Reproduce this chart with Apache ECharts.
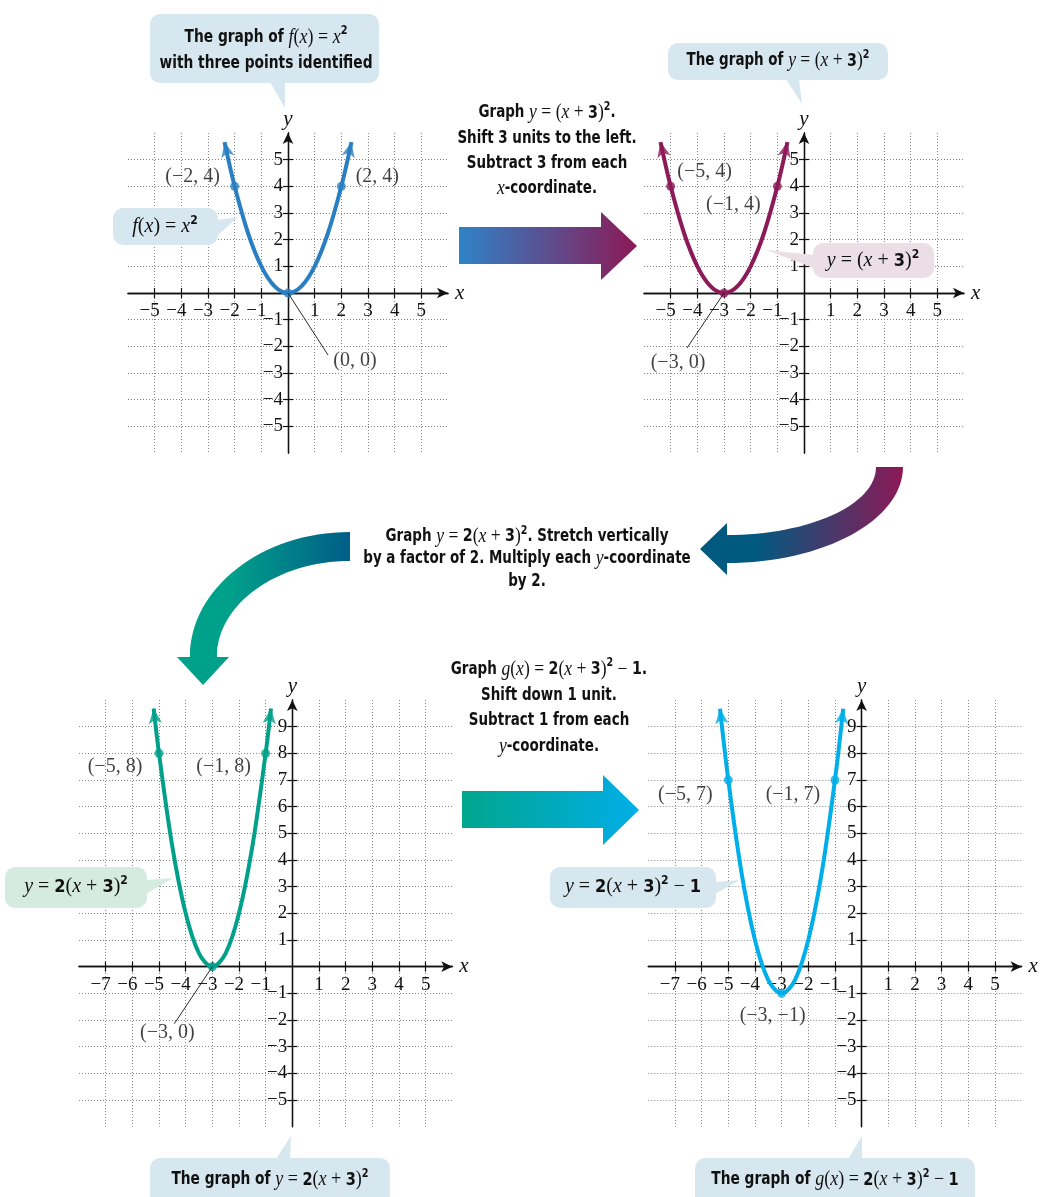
<!DOCTYPE html>
<html>
<head>
<meta charset="utf-8">
<script src="https://cdn.jsdelivr.net/npm/echarts@6/dist/echarts.min.js"></script>
<style>
  html, body { margin: 0; padding: 0; background: #ffffff; }
  #main { width: 1040px; height: 1197px; }
</style>
</head>
<body>
<div id="main"></div>
<script>
// ---------- data ----------
// axis ranges of the four coordinate planes
const xRangeTop = [-6, 6];
const yRangeTop = [-6, 6];
const xRangeBottom = [-8, 6];
const yRangeBottom = [-6, 10];

// labelled ticks (0 is left unlabelled)
const xTicksTop = [-5, -4, -3, -2, -1, 1, 2, 3, 4, 5];
const yTicksTop = [-5, -4, -3, -2, -1, 1, 2, 3, 4, 5];
const xTicksBottom = [-7, -6, -5, -4, -3, -2, -1, 1, 2, 3, 4, 5];
const yTicksBottom = [-5, -4, -3, -2, -1, 1, 2, 3, 4, 5, 6, 7, 8, 9];

// f(x) = x^2
const curveX1 = [-2.38, -2, -1.5, -1, -0.5, 0, 0.5, 1, 1.5, 2, 2.38];
const curveY1 = [5.66, 4, 2.25, 1, 0.25, 0, 0.25, 1, 2.25, 4, 5.66];
// y = (x + 3)^2
const curveX2 = [-5.38, -5, -4.5, -4, -3.5, -3, -2.5, -2, -1.5, -1, -0.62];
const curveY2 = [5.66, 4, 2.25, 1, 0.25, 0, 0.25, 1, 2.25, 4, 5.66];
// y = 2(x + 3)^2
const curveX3 = [-5.2, -5, -4.5, -4, -3.5, -3, -2.5, -2, -1.5, -1, -0.8];
const curveY3 = [9.68, 8, 4.5, 2, 0.5, 0, 0.5, 2, 4.5, 8, 9.68];
// g(x) = 2(x + 3)^2 - 1
const curveX4 = [-5.31, -5, -4.5, -4, -3.5, -3, -2.5, -2, -1.5, -1, -0.69];
const curveY4 = [9.67, 7, 3.5, 1, -0.5, -1, -0.5, 1, 3.5, 7, 9.67];

// identified points
const points1 = [[-2, 4], [0, 0], [2, 4]];
const points2 = [[-5, 4], [-3, 0], [-1, 4]];
const points3 = [[-5, 8], [-3, 0], [-1, 8]];
const points4 = [[-5, 7], [-3, -1], [-1, 7]];

// ---------- styling ----------
const SERIF = "'Liberation Serif', 'Times New Roman', serif";
const HAND = "'DejaVu Sans Condensed', 'DejaVu Sans', sans-serif";
const INK = '#111111';
const GRIDLINE = '#858585';
const BLUE_BOX = '#d6e7f0';
const PINK_BOX = '#ecdee5';
const GREEN_BOX = '#d6ebdf';

const panels = [
  { grid: { left: 128, top: 133, width: 320, height: 320 }, color: '#2a7fc2',
    xRange: xRangeTop, yRange: yRangeTop, xTicks: xTicksTop, yTicks: yTicksTop,
    cx: curveX1, cy: curveY1, pts: points1,
    labelOffsets: [[-42, -10], [67, 68], [36, -10]], leaders: [null, [40, 62], null] },
  { grid: { left: 644, top: 133, width: 320, height: 320 }, color: '#8c1a59',
    xRange: xRangeTop, yRange: yRangeTop, xTicks: xTicksTop, yTicks: yTicksTop,
    cx: curveX2, cy: curveY2, pts: points2,
    labelOffsets: [[34, -15], [-46, 70], [-44, 18]], leaders: [null, [-37, 55], null] },
  { grid: { left: 79, top: 700, width: 373.3, height: 426.7 }, color: '#00a08a',
    xRange: xRangeBottom, yRange: yRangeBottom, xTicks: xTicksBottom, yTicks: yTicksBottom,
    cx: curveX3, cy: curveY3, pts: points3,
    labelOffsets: [[-44, 13], [-45, 66], [-42, 13]], leaders: [null, [-38, 57], null] },
  { grid: { left: 648.3, top: 700, width: 373.3, height: 426.7 }, color: '#00aeea',
    xRange: xRangeBottom, yRange: yRangeBottom, xTicks: xTicksBottom, yTicks: yTicksBottom,
    cx: curveX4, cy: curveY4, pts: points4,
    labelOffsets: [[-43, 15], [-9, 22], [-42, 15]], leaders: [null, null, null] }
];

function fmtNum(v) { return v < 0 ? '\u2212' + (-v) : String(v); }
function fmtPt(p) { return '(' + fmtNum(p[0]) + ', ' + fmtNum(p[1]) + ')'; }

// free-form filled outline (used for the curved block arrows)
echarts.graphic.registerShape('cmdPath', echarts.graphic.extendShape({
  shape: { cmds: [] },
  buildPath: function (ctx, shape) {
    shape.cmds.forEach(function (c) {
      if (c[0] === 'M') ctx.moveTo(c[1], c[2]);
      else if (c[0] === 'L') ctx.lineTo(c[1], c[2]);
      else if (c[0] === 'C') ctx.bezierCurveTo(c[1], c[2], c[3], c[4], c[5], c[6]);
      else ctx.closePath();
    });
  }
}));

const grid = [], xAxis = [], yAxis = [], series = [];

// Each plane gets two axes per dimension, both shifted onto the zero line of the
// other dimension: one carries the line, labels and outward ticks, the other only
// the opposite half of the ticks, so the ticks cross the axis.
function makeAxis(dim, gi, range, ticks, position, primary, shift) {
  const isX = dim === 'x';
  return {
    gridIndex: gi, type: 'value', min: range[0], max: range[1], interval: 1,
    position: position, offset: shift,
    axisLine: {
      show: true, onZero: false,
      symbol: primary ? ['none', 'arrow'] : 'none', symbolSize: [8, 11],
      lineStyle: { color: INK, width: 1.3 }
    },
    axisTick: { show: true, length: 5, customValues: ticks, lineStyle: { color: INK, width: 1.2 } },
    axisLabel: {
      show: primary, customValues: ticks,
      formatter: function (v) {
        if (ticks.indexOf(v) < 0) return '';
        if (isX) return v < 0 ? '{n|' + fmtNum(v) + '}' : '{p|' + v + '}';
        return fmtNum(v);
      },
      rich: {
        n: { fontFamily: SERIF, fontSize: 19, color: INK, padding: [0, 10, 0, 0] },
        p: { fontFamily: SERIF, fontSize: 19, color: INK }
      },
      fontFamily: SERIF, fontSize: 19, color: INK, margin: isX ? 9 : 5
    },
    splitLine: {
      show: primary, showMinLine: true, showMaxLine: true,
      lineStyle: { color: GRIDLINE, width: 1, type: [1, 2] }
    },
    name: primary ? dim : '', nameLocation: 'end', nameGap: isX ? 7 : 3,
    nameTextStyle: { fontFamily: SERIF, fontStyle: 'italic', fontSize: 21, color: INK }
  };
}

panels.forEach(function (p, i) {
  grid.push(Object.assign({ show: false, containLabel: false }, p.grid));
  const w = p.grid.width, h = p.grid.height;
  const yZeroFromBottom = h * (0 - p.yRange[0]) / (p.yRange[1] - p.yRange[0]);
  const xZeroFromLeft = w * (0 - p.xRange[0]) / (p.xRange[1] - p.xRange[0]);
  xAxis.push(makeAxis('x', i, p.xRange, p.xTicks, 'bottom', true, -yZeroFromBottom));
  xAxis.push(makeAxis('x', i, p.xRange, p.xTicks, 'top', false, -(h - yZeroFromBottom)));
  yAxis.push(makeAxis('y', i, p.yRange, p.yTicks, 'left', true, -xZeroFromLeft));
  yAxis.push(makeAxis('y', i, p.yRange, p.yTicks, 'right', false, -(w - xZeroFromLeft)));
  const ax = 2 * i;

  // the parabola
  series.push({
    type: 'line', xAxisIndex: ax, yAxisIndex: ax, silent: true, z: 3,
    data: p.cx.map(function (x, k) { return [x, p.cy[k]]; }),
    smooth: 0.35, symbol: 'none',
    lineStyle: { color: p.color, width: 4 }
  });

  // arrowheads at both ends, aligned with the last segment
  const n = p.cx.length;
  const ends = [[p.cx[0], p.cy[0], p.cx[1], p.cy[1]],
                [p.cx[n - 1], p.cy[n - 1], p.cx[n - 2], p.cy[n - 2]]];
  series.push({
    type: 'scatter', xAxisIndex: ax, yAxisIndex: ax, silent: true, z: 4,
    symbol: 'arrow', symbolSize: [10, 15],
    itemStyle: { color: p.color },
    data: ends.map(function (e) {
      return { value: [e[0], e[1]],
               symbolRotate: -Math.atan2(e[0] - e[2], e[1] - e[3]) * 180 / Math.PI };
    })
  });

  // identified points with coordinate labels
  series.push({
    type: 'scatter', xAxisIndex: ax, yAxisIndex: ax, silent: true, z: 5,
    symbolSize: 9, itemStyle: { color: p.color },
    label: {
      show: true, position: 'inside',
      formatter: function (d) { return fmtPt(d.value); },
      fontFamily: SERIF, fontSize: 20, color: INK
    },
    data: p.pts.map(function (pt, k) {
      return { value: pt, label: { offset: p.labelOffsets[k] } };
    })
  });
});

// ---------- annotations ----------
const RICH = {
  h: { fontFamily: HAND, fontWeight: 'bold', fontSize: 17, lineHeight: 25, fill: INK },
  m: { fontFamily: SERIF, fontStyle: 'italic', fontSize: 20, lineHeight: 25, fill: INK },
  s: { fontFamily: SERIF, fontSize: 20, lineHeight: 25, fill: INK },
  b: { fontFamily: HAND, fontWeight: 'bold', fontSize: 18, lineHeight: 25, fill: INK },
  u: { fontFamily: HAND, fontWeight: 'bold', fontSize: 12, lineHeight: 18, verticalAlign: 'top', fill: INK }
};

function textEl(x, y, text, lineHeight, scaleX) {
  const rich = {};
  Object.keys(RICH).forEach(function (k) {
    rich[k] = Object.assign({}, RICH[k], k === 'u' ? {} : { lineHeight: lineHeight });
  });
  return {
    type: 'text', x: x, y: y, z: 60, scaleX: scaleX, silent: true,
    style: { text: text, rich: rich, align: 'center', verticalAlign: 'middle', fill: INK }
  };
}

function bubble(rect, fill, pointer) {
  return [
    { type: 'rect', z: 50, silent: true,
      shape: { x: rect[0], y: rect[1], width: rect[2], height: rect[3], r: 10 },
      style: { fill: fill } },
    { type: 'polygon', z: 50, silent: true, shape: { points: pointer }, style: { fill: fill } }
  ];
}

function grad(stops) {
  return { type: 'linear', x: 0, y: 0, x2: 1, y2: 0,
           colorStops: stops.map(function (s) { return { offset: s[0], color: s[1] }; }) };
}

const graphics = [];

// block arrows between the panels
graphics.push({ type: 'polygon', z: 40, silent: true,
  shape: { points: [[459, 227], [601, 227], [601, 212], [637, 246], [601, 280], [601, 264], [459, 264]] },
  style: { fill: grad([[0, '#2e83c7'], [1, '#8c1956']]) } });
graphics.push({ type: 'cmdPath', z: 40, silent: true,
  shape: { cmds: [['M', 876, 467], ['L', 903, 467], ['C', 903, 520, 824, 563, 727, 563],
                  ['L', 727, 575], ['L', 700, 549], ['L', 727, 523], ['L', 727, 535],
                  ['C', 809, 535, 876, 505, 876, 467], ['Z']] },
  style: { fill: grad([[0, '#005a80'], [0.27, '#005a80'], [1, '#8c1956']]) } });
graphics.push({ type: 'cmdPath', z: 40, silent: true,
  shape: { cmds: [['M', 350, 532], ['L', 350, 561], ['C', 277, 561, 217, 604, 217, 657],
                  ['L', 229, 657], ['L', 203, 685], ['L', 177, 657], ['L', 190, 657],
                  ['C', 190, 588, 262, 532, 350, 532], ['Z']] },
  style: { fill: grad([[0, '#00a18b'], [0.3, '#00a18b'], [1, '#005d87']]) } });
graphics.push({ type: 'polygon', z: 40, silent: true,
  shape: { points: [[462, 791], [603, 791], [603, 775], [639, 810], [603, 845], [603, 828], [462, 828]] },
  style: { fill: grad([[0, '#00a68d'], [1, '#00aee8']]) } });

// step descriptions
graphics.push(textEl(547, 151,
  '{h|Graph }{m|y}{s| = (}{m|x}{s| + }{b|3}{s|)}{u|2}{h|.}\n{h|Shift 3 units to the left.}\n{h|Subtract 3 from each}\n{m|x}{h|-coordinate.}',
  25.3, 0.88));
graphics.push(textEl(527, 559,
  '{h|Graph }{m|y}{s| = }{b|2}{s|(}{m|x}{s| + }{b|3}{s|)}{u|2}{h|. Stretch vertically}\n{h|by a factor of 2. Multiply each }{m|y}{h|-coordinate}\n{h|by 2.}',
  22.5, 0.88));
graphics.push(textEl(549, 708,
  '{h|Graph }{m|g}{s|(}{m|x}{s|) = }{b|2}{s|(}{m|x}{s| + }{b|3}{s|)}{u|2}{s| \u2212 }{b|1.}\n{h|Shift down 1 unit.}\n{h|Subtract 1 from each}\n{m|y}{h|-coordinate.}',
  25.5, 0.88));

// callout bubbles
[].push.apply(graphics, bubble([150, 14, 229, 69], BLUE_BOX, [[270, 82], [285, 82], [285, 108]]));
graphics.push(textEl(266, 51,
  '{h|The graph of }{m|f}{s|(}{m|x}{s|) = }{m|x}{u|2}\n{h|with three points identified}', 26, 0.9));

[].push.apply(graphics, bubble([668, 43, 220, 37], BLUE_BOX, [[786, 79], [799, 79], [802, 104]]));
graphics.push(textEl(778, 61,
  '{h|The graph of }{m|y}{s| = (}{m|x}{s| + }{b|3}{s|)}{u|2}', 25, 0.88));

[].push.apply(graphics, bubble([113, 208, 105, 37], BLUE_BOX, [[217, 220], [217, 236], [238, 217]]));
graphics.push(textEl(165, 227, '{m|f}{s|(}{m|x}{s|) = }{m|x}{u|2}', 25, 1));

[].push.apply(graphics, bubble([813, 243, 121, 35], PINK_BOX, [[814, 255], [814, 268], [766, 250]]));
graphics.push(textEl(873, 261, '{m|y}{s| = (}{m|x}{s| + }{b|3}{s|)}{u|2}', 25, 1));

[].push.apply(graphics, bubble([5, 867, 142, 41], GREEN_BOX, [[146, 880], [146, 894], [173, 878]]));
graphics.push(textEl(76, 887, '{m|y}{s| = }{b|2}{s|(}{m|x}{s| + }{b|3}{s|)}{u|2}', 25, 1));

[].push.apply(graphics, bubble([550, 867, 166, 41], BLUE_BOX, [[715, 882], [715, 894], [740, 880]]));
graphics.push(textEl(633, 887, '{m|y}{s| = }{b|2}{s|(}{m|x}{s| + }{b|3}{s|)}{u|2}{s| \u2212 }{b|1}', 25, 1));

[].push.apply(graphics, bubble([150, 1158, 240, 50], BLUE_BOX, [[276, 1159], [290, 1159], [291, 1136]]));
graphics.push(textEl(270, 1180,
  '{h|The graph of }{m|y}{s| = }{b|2}{s|(}{m|x}{s| + }{b|3}{s|)}{u|2}', 25, 0.9));

[].push.apply(graphics, bubble([695, 1158, 280, 50], BLUE_BOX, [[848, 1159], [862, 1159], [862, 1136]]));
graphics.push(textEl(835, 1180,
  '{h|The graph of }{m|g}{s|(}{m|x}{s|) = }{b|2}{s|(}{m|x}{s| + }{b|3}{s|)}{u|2}{s| \u2212 }{b|1}', 25, 0.9));

const chart = echarts.init(document.getElementById('main'), null, { renderer: 'canvas' });
chart.setOption({
  animation: false,
  backgroundColor: '#ffffff',
  grid: grid, xAxis: xAxis, yAxis: yAxis, series: series
});

// leader lines from points to their coordinate labels
const leaders = [];
panels.forEach(function (p, i) {
  p.pts.forEach(function (pt, k) {
    const off = p.leaders[k];
    if (!off) return;
    const a = chart.convertToPixel({ xAxisIndex: 2 * i, yAxisIndex: 2 * i }, pt);
    leaders.push({ type: 'line', z: 45, silent: true,
      shape: { x1: a[0], y1: a[1], x2: a[0] + off[0], y2: a[1] + off[1] },
      style: { stroke: INK, lineWidth: 0.9 } });
  });
});
chart.setOption({ graphic: graphics.concat(leaders) });
</script>
</body>
</html>
